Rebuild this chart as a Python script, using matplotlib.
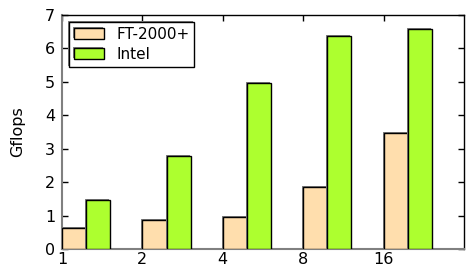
import numpy as np
import matplotlib
matplotlib.use("Agg")
import matplotlib.pyplot as plt
import matplotlib.patheffects as pe

threads = ["1", "2", "4", "8", "16"]
ft2000 = [0.62, 0.86, 0.95, 1.84, 3.46]
intel = [1.46, 2.78, 4.98, 6.36, 6.58]

plt.rcParams["font.family"] = "DejaVu Sans"
plt.rcParams["font.size"] = 11.5

fig = plt.figure(figsize=(4.66, 2.71), dpi=100)
ax = fig.add_axes([62 / 466, 1 - 249 / 271, 402 / 466, 234 / 271])

x = np.arange(len(threads))
w = 0.3
shadow = [pe.SimplePatchShadow(offset=(-0.72, 0.72), shadow_rgbFace="#808080", alpha=1.0), pe.Normal()]

b1 = ax.bar(x, ft2000, w, align="edge", color="#ffdead", edgecolor="black",
            linewidth=1, label="FT-2000+", zorder=3)
b2 = ax.bar(x + w, intel, w, align="edge", color="#adff2f", edgecolor="black",
            linewidth=1, label="Intel", zorder=3)
for bar in list(b1) + list(b2):
    bar.set_path_effects(shadow)

ax.set_xlim(0, 5)
ax.set_ylim(0, 7)
ax.set_xticks(x)
ax.set_xticklabels(threads)
ax.set_yticks(range(8))
ax.tick_params(direction="in", top=True, right=True, length=4, width=1, pad=5)
ax.tick_params(axis="x", pad=2)

for s in ["left", "bottom"]:
    ax.spines[s].set_color("#808080")
    ax.spines[s].set_linewidth(1.5)
for s in ["top", "right"]:
    ax.spines[s].set_color("black")
    ax.spines[s].set_linewidth(1)

ax.set_ylabel("Gflops", labelpad=14)

leg = ax.legend(loc="upper left", bbox_to_anchor=(7 / 402, 1 - 7 / 234), borderaxespad=0,
                fancybox=False, framealpha=1, edgecolor="black", handlelength=2.0,
                handleheight=0.7, borderpad=0.3, labelspacing=0.35, handletextpad=0.8,
                fontsize=11)
leg.get_frame().set_linewidth(1)
leg.get_frame().set_path_effects(shadow)

fig.savefig("out.png", dpi=100)
